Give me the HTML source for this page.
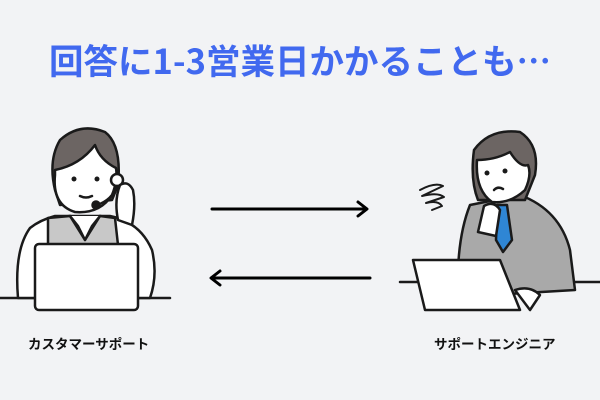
<!DOCTYPE html>
<html><head><meta charset="utf-8"><style>
html,body{margin:0;padding:0;}
body{width:600px;height:400px;background:#f2f3f5;position:relative;overflow:hidden;font-family:"Liberation Sans","Noto Sans CJK JP",sans-serif;}
.t{position:absolute;left:0;width:600px;top:35px;text-align:center;font-size:34.5px;font-weight:bold;color:#4169ef;line-height:48px;font-family:"Noto Sans CJK JP",sans-serif;letter-spacing:0px}
.l{position:absolute;top:333px;font-size:13.5px;font-weight:bold;color:#111;font-family:"Noto Sans CJK JP",sans-serif}
svg{position:absolute;left:0;top:0}
</style></head><body>
<div class="t">回答に1-3営業日かかることも…</div>
<svg width="600" height="400" viewBox="0 0 600 400" fill="none" stroke="#1a1a1a" stroke-width="2.5" stroke-linejoin="round" stroke-linecap="round">
<line x1="212" y1="209" x2="366" y2="209" stroke="#000" stroke-width="3"/>
<polyline points="358,202 367,209 358,216" stroke="#000" stroke-width="3"/>
<line x1="370" y1="278" x2="212" y2="278" stroke="#000" stroke-width="3"/>
<polyline points="220,271 211,278 220,285" stroke="#000" stroke-width="3"/>
<line x1="0" y1="298" x2="170" y2="298"/>
<path d="M18,298 Q14,250 30,228 Q40,220 55,216 L110,216 Q140,222 152,250 Q158,275 150,298 Z" fill="#fff"/>
<path d="M48,218 L70,216 L85,240 L100,216 L115,218 L118,245 L48,245 Z" fill="#c8c8c8"/>
<path d="M70,216 L78,226 L85,240 L92,226 L100,216" fill="#fff"/>
<path d="M55,190 Q48,160 60,140 Q80,122 105,132 Q122,145 118,185 L112,200 L60,205 Z" fill="#6c6563"/>
<path d="M55,175 Q52,205 75,212 Q100,214 112,195 Q118,180 116,168 Q100,160 95,145 Q80,165 55,170 Z" fill="#fff"/>
<circle cx="74" cy="179" r="2.5" fill="#1a1a1a" stroke="none"/>
<circle cx="97" cy="179" r="2.5" fill="#1a1a1a" stroke="none"/>
<path d="M80,196 Q86,199 92,196"/>
<circle cx="117" cy="180" r="6" fill="#fff"/>
<path d="M117,186 Q112,200 97,205"/>
<circle cx="96" cy="205" r="3.5" fill="#1a1a1a"/>
<path d="M118,220 Q114,200 120,185 Q128,180 133,190 Q136,205 132,225 Z" fill="#fff"/>
<rect x="35" y="244" width="103" height="66" rx="4" fill="#fff"/>
<line x1="400" y1="282" x2="600" y2="282"/>
<path d="M458,297 Q456,240 470,205 L520,195 Q560,210 570,250 L575,290 Z" fill="#a9a9a9"/>
<path d="M497,205 L507,205 L512,240 L503,252 L496,240 Z" fill="#2f86d4"/>
<path d="M478,200 Q470,180 474,150 Q490,128 520,132 Q540,145 535,175 L525,200 Z" fill="#6c6563"/>
<path d="M477,160 Q475,190 492,202 Q510,204 525,190 Q532,175 528,165 Q520,168 510,152 Q495,160 477,160 Z" fill="#fff"/>
<circle cx="487" cy="173" r="2.5" fill="#1a1a1a" stroke="none"/>
<circle cx="505" cy="171" r="2.5" fill="#1a1a1a" stroke="none"/>
<path d="M494,190 Q498,186 503,189"/>
<path d="M478,232 L484,206 Q494,200 500,210 L496,236 Z" fill="#fff"/>
<path d="M420,190 Q435,182 443,186 L422,196 Q438,192 444,197 L426,203 Q438,200 442,206 L432,210" stroke-width="2"/>
<path d="M413,260 L500,260 L520,310 L425,310 Z" fill="#fff"/>
<path d="M515,290 Q530,285 540,295 L530,310 Z" fill="#fff"/>
</svg>
<div class="l" style="left:28px">カスタマーサポート</div>
<div class="l" style="left:434px">サポートエンジニア</div>
</body></html>
